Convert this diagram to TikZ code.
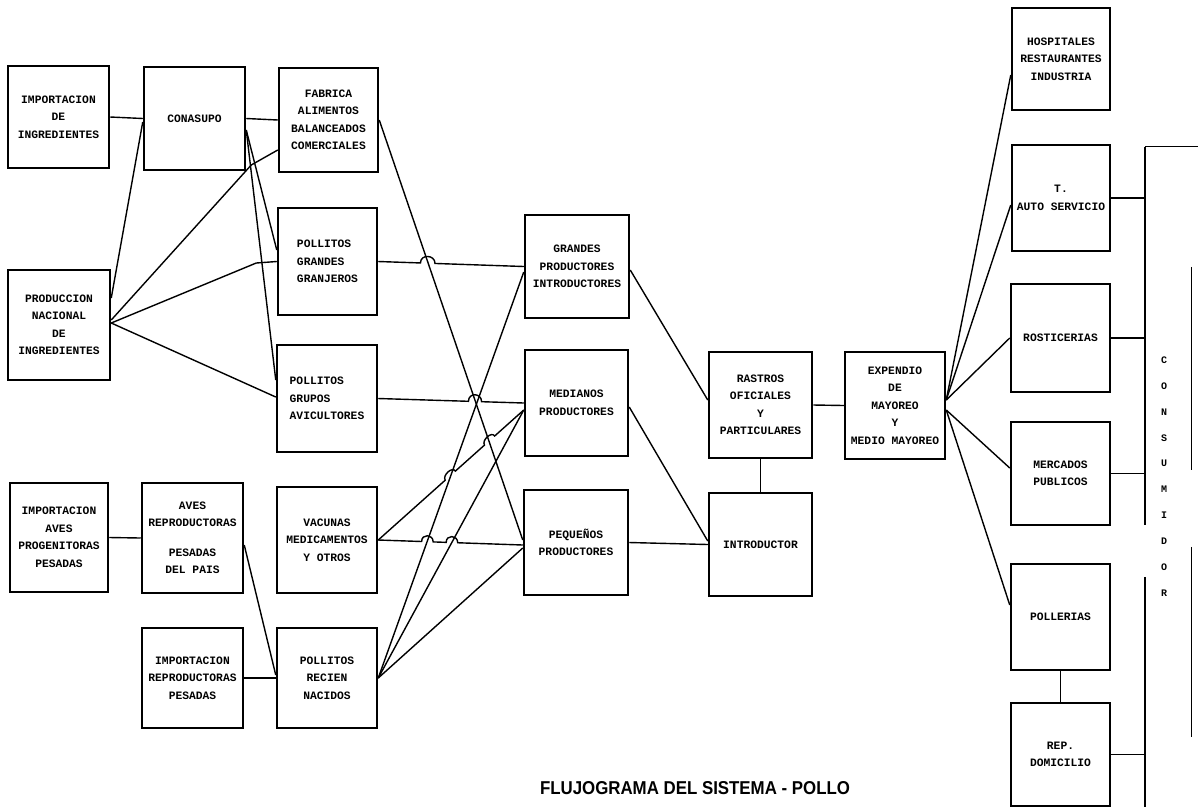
\documentclass[tikz,border=0pt]{standalone}
\usepackage{fontspec}
\usepackage{graphicx}
\setmonofont{Liberation Mono}
\newfontfamily\capfont{Liberation Sans}
\usetikzlibrary{calc}
\tikzset{
  box/.style={draw, line width=2.5pt, inner sep=0pt, align=center,
    font=\ttfamily\bfseries\fontsize{11.3}{17.5}\selectfont},
  boxl/.style={box, align=left},
  link/.style={line width=1.4pt},
  thinedge/.style={line width=1pt},
}
\begin{document}
\begin{tikzpicture}[x=1pt,y=-1pt]
\fill[white] (0,0) rectangle (1198,807);
\useasboundingbox (0,0) rectangle (1198,807);

% column 1
\node[box, minimum width=101pt, minimum height=102pt] (imping) at (58.5,117) {IMPORTACION\\DE\\INGREDIENTES};
\node[box, minimum width=102pt, minimum height=110pt] (prodnac) at (59,325) {PRODUCCION\\NACIONAL\\DE\\INGREDIENTES};
\node[box, minimum width=98pt, minimum height=109pt] (impaves) at (59,537.5) {IMPORTACION\\AVES\\PROGENITORAS\\PESADAS};
% column 2
\node[box, minimum width=101pt, minimum height=103pt] (conasupo) at (194.5,118.5) {CONASUPO};
\node[box, minimum width=101pt, minimum height=110pt] (avesrep) at (192.5,538) {AVES\\REPRODUCTORAS\\[12pt]PESADAS\\DEL PAIS};
\node[box, minimum width=101pt, minimum height=100pt] (imprep) at (192.5,678) {IMPORTACION\\REPRODUCTORAS\\PESADAS};
% column 3
\node[box, minimum width=99pt, minimum height=104pt] (fabrica) at (328.5,120) {FABRICA\\ALIMENTOS\\BALANCEADOS\\COMERCIALES};
\node[boxl, minimum width=99pt, minimum height=107pt] (granjeros) at (327.5,261.5) {POLLITOS\\GRANDES\\GRANJEROS};
\node[boxl, minimum width=100pt, minimum height=107pt] (avicult) at (327,398.5) {POLLITOS\\GRUPOS\\AVICULTORES};
\node[box, minimum width=100pt, minimum height=106pt] (vacunas) at (327,540) {VACUNAS\\MEDICAMENTOS\\Y OTROS};
\node[box, minimum width=100pt, minimum height=100pt] (pollitos) at (327,678) {POLLITOS\\RECIEN\\NACIDOS};
% column 4
\node[box, minimum width=104pt, minimum height=103pt] (grandes) at (577,266.5) {GRANDES\\PRODUCTORES\\INTRODUCTORES};
\node[box, minimum width=103pt, minimum height=106pt] (medianos) at (576.5,403) {MEDIANOS\\PRODUCTORES};
\node[box, minimum width=104pt, minimum height=105pt] (pequenos) at (576,542.5) {PEQUEÑOS\\PRODUCTORES};
% column 5, 6
\node[box, minimum width=103pt, minimum height=106pt] (rastros) at (760.5,405) {RASTROS\\OFICIALES\\Y\\PARTICULARES};
\node[box, minimum width=103pt, minimum height=103pt] (introductor) at (760.5,544.5) {INTRODUCTOR};
\node[box, minimum width=100pt, minimum height=107pt] (expendio) at (895,405.5) {EXPENDIO\\DE\\MAYOREO\\Y\\MEDIO MAYOREO};
% column 7
\node[box, minimum width=98pt, minimum height=102pt] (hospitales) at (1061,59) {HOSPITALES\\RESTAURANTES\\INDUSTRIA};
\node[box, minimum width=98pt, minimum height=106pt] (tauto) at (1061,198) {T.\\AUTO SERVICIO};
\node[box, minimum width=99pt, minimum height=108pt] (rosticerias) at (1060.5,338) {ROSTICERIAS};
\node[box, minimum width=99pt, minimum height=103pt] (mercados) at (1060.5,473.5) {MERCADOS\\PUBLICOS};
\node[box, minimum width=99pt, minimum height=106pt] (pollerias) at (1060.5,617) {POLLERIAS};
\node[box, minimum width=99pt, minimum height=103pt] (repdom) at (1060.5,754.5) {REP.\\DOMICILIO};

% consumer box (partly outside the picture)
\node[minimum width=100pt, minimum height=700pt, inner sep=0pt] (cons) at (1195,497) {};
\draw[line width=2pt] (cons.north west) -- ++(0,378);
\draw[line width=2pt] ($(cons.north west)+(0,430)$) -- ++(0,230);
\draw[thinedge] (cons.north west) -- ++(53,0);
\draw[thinedge] ($(cons.north west)+(47,120)$) -- ++(0,203);
\draw[thinedge] ($(cons.north west)+(47,400)$) -- ++(0,190);
\node[font=\ttfamily\bfseries\fontsize{10}{25.9}\selectfont, align=center, inner sep=0pt] (conslbl) at (1164,476.5) {C\\O\\N\\S\\U\\M\\I\\D\\O\\R};

% connectors, left part
\draw[link] (imping.east) -- (conasupo.west);
\draw[link] (conasupo.east) -- (fabrica.west);
\draw[link] ([yshift=27pt]prodnac.east) -- ([yshift=-3.5pt]conasupo.west);
\draw[link] ([yshift=5pt]prodnac.east) -- ++(140,-155) -- ([yshift=-30pt]fabrica.west);
\draw[link] ([yshift=2pt]prodnac.east) -- ++(145,-60) -- (granjeros.west);
\draw[link] ([yshift=2pt]prodnac.east) -- ([yshift=1.5pt]avicult.west);
\draw[link] ([yshift=-11.5pt]conasupo.east) -- ([yshift=11.5pt]granjeros.west);
\draw[link] ([yshift=-11.5pt]conasupo.east) -- ([yshift=18.5pt]avicult.west);
\draw[link] (impaves.east) -- (avesrep.west);
\draw[link] ([yshift=-7pt]avesrep.east) -- ([yshift=3pt]pollitos.west);
\draw[link] (imprep.east) -- (pollitos.west);

% connectors into producers
\draw[link] (fabrica.east) -- ([yshift=2.5pt]pequenos.west);

\coordinate (graE) at (granjeros.east);
\coordinate (grdW) at (grandes.west);
\draw[link] (graE) -- ($(graE)!0.29!(grdW)$) .. controls +(0,-9) and +(0,-9) .. ($(graE)!0.39!(grdW)$) -- (grdW);

\coordinate (aviE) at (avicult.east);
\coordinate (medW) at (medianos.west);
\draw[link] (aviE) -- ($(aviE)!0.62!(medW)$) .. controls +(0,-9) and +(0,-9) .. ($(aviE)!0.71!(medW)$) -- (medW);

\coordinate (vacE) at (vacunas.east);
\coordinate (medW2) at ([yshift=-7pt]medianos.west);
\draw[link] (vacE) -- ($(vacE)!0.46!(medW2)$) .. controls +(-3,-5) and +(-3,-5) .. ($(vacE)!0.53!(medW2)$)
  -- ($(vacE)!0.73!(medW2)$) .. controls +(-3,-5) and +(-3,-5) .. ($(vacE)!0.80!(medW2)$) -- (medW2);

\coordinate (peqW2) at ([yshift=-2.5pt]pequenos.west);
\draw[link] (vacE) -- ($(vacE)!0.30!(peqW2)$) .. controls +(0,-8) and +(0,-8) .. ($(vacE)!0.38!(peqW2)$)
  -- ($(vacE)!0.47!(peqW2)$) .. controls +(0,-8) and +(0,-8) .. ($(vacE)!0.55!(peqW2)$) -- (peqW2);

\draw[link] (pollitos.east) -- ([yshift=-5.5pt]grandes.west);
\draw[link] (pollitos.east) -- ([yshift=-7pt]medianos.west);
\draw[link] (pollitos.east) -- ([yshift=-5.5pt]pequenos.west);

% producers to slaughter
\draw[link] ([yshift=-3.5pt]grandes.east) -- ([yshift=5pt]rastros.west);
\draw[link] ([yshift=-4pt]medianos.east) -- ([yshift=3.5pt]introductor.west);
\draw[link] (pequenos.east) -- (introductor.west);
\draw[link] (rastros.south) -- (introductor.north);
\draw[link] (rastros.east) -- (expendio.west);

% distribution fan
\draw[link] ([yshift=5.5pt]expendio.east) -- ([yshift=-16pt]hospitales.west);
\draw[link] ([yshift=5.5pt]expendio.east) -- ([yshift=-7pt]tauto.west);
\draw[link] ([yshift=5.5pt]expendio.east) -- (rosticerias.west);
\draw[link] ([yshift=-4.5pt]expendio.east) -- ([yshift=5.5pt]mercados.west);
\draw[link] ([yshift=-4.5pt]expendio.east) -- ([yshift=12pt]pollerias.west);
\draw[link] (pollerias.south) -- (repdom.north);

% to consumer
\draw[link] (tauto.east) -- (tauto.east -| cons.west);
\draw[link] (rosticerias.east) -- (rosticerias.east -| cons.west);
\draw[link] (mercados.east) -- (mercados.east -| cons.west);
\draw[link] (repdom.east) -- (repdom.east -| cons.west);

% caption
\node[inner sep=0pt, anchor=base] (title) at (695,794) {\resizebox{310pt}{13pt}{\capfont\bfseries FLUJOGRAMA DEL SISTEMA - POLLO}};
\end{tikzpicture}
\end{document}
